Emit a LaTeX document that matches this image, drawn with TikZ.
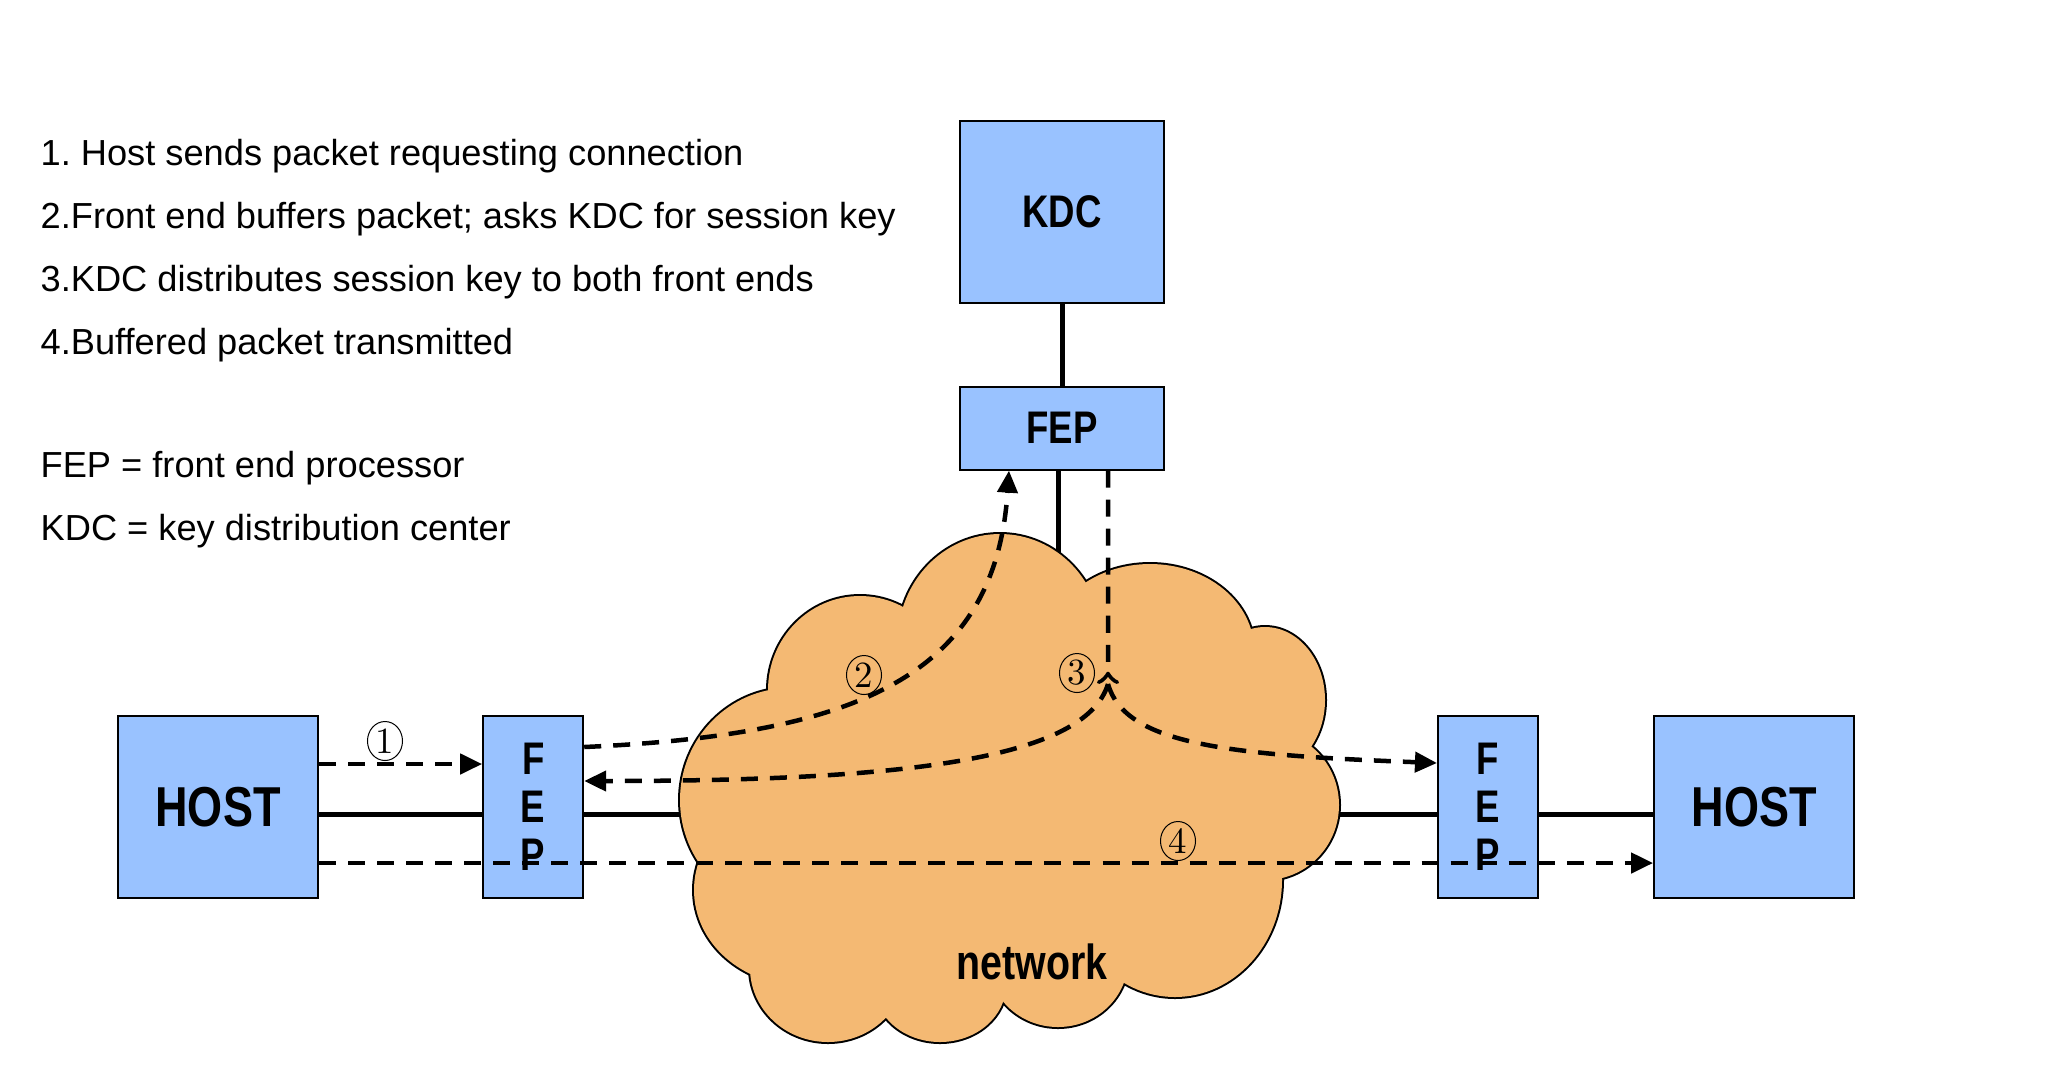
\documentclass[tikz,border=0pt]{standalone}
\usepackage{fontspec}
\setsansfont{Liberation Sans}
\newfontfamily\comicfont{Liberation Sans}[FakeStretch=0.8]
\usetikzlibrary{positioning, arrows, arrows.meta, shapes.geometric}

\definecolor{boxblue}{RGB}{153,194,255}
\definecolor{netorange}{RGB}{244,185,115}

\tikzset{
	box/.style={draw, line width=0.02cm, fill=boxblue, inner sep=0pt,
		font=\comicfont\bfseries\fontsize{13}{13.6}\selectfont},
	note/.style={anchor=base west, inner sep=0pt, font=\sffamily\fontsize{10.3}{12}\selectfont},
	link/.style={line width=0.05cm},
	msg/.style={->, line width=0.045cm, dash pattern=on 0.17cm off 0.12cm},
	num/.style={draw, ellipse, line width=0.01cm, inner sep=0pt,
		minimum width=0.35cm, minimum height=0.39cm, font=\rmfamily\fontsize{10.5}{10.5}\selectfont}
}

\begin{document}
\begin{tikzpicture}[x=0.01cm, y=-0.01cm, >={Triangle[length=0.22cm, width=0.2cm]}]

	\useasboundingbox (0,0) rectangle (2054,1090);

	% legend
	\node[note] (l1) at (40,165) {1.\ Host sends packet requesting connection};
	\node[note] (l2) at (40,228) {2.Front end buffers packet; asks KDC for session key};
	\node[note] (l3) at (40,291) {3.KDC distributes session key to both front ends};
	\node[note] (l4) at (40,354) {4.Buffered packet transmitted};
	\node[note] (dfep) at (40,477) {FEP = front end processor};
	\node[note] (dkdc) at (40,540) {KDC = key distribution center};

	% boxes
	\node[box, minimum width=2.04cm, minimum height=1.81cm] (kdc) at (1062,212) {KDC};
	\node[box, minimum width=2.04cm, minimum height=0.83cm, below=0.82cm of kdc] (fepk) {FEP};
	\node[box, minimum width=2cm, minimum height=1.82cm, font=\comicfont\bfseries\fontsize{16}{18}\selectfont] (hostl) at (218,807) {HOST};
	\node[box, minimum width=1cm, minimum height=1.82cm, align=center, right=1.63cm of hostl] (fepl) {F\\E\\P};
	\node[box, minimum width=1cm, minimum height=1.82cm, align=center] (fepr) at (1488,807) {F\\E\\P};
	\node[box, minimum width=2cm, minimum height=1.82cm, font=\comicfont\bfseries\fontsize{16}{18}\selectfont, right=1.14cm of fepr] (hostr) {HOST};

	\coordinate (netw) at (740,814);
	\coordinate (nete) at (1290,814);
	\coordinate (netn) at (1062,620);
	\coordinate (split) at (1108,684);

	% wires
	\draw[link] (kdc) -- (fepk);
	\draw[link] ([xshift=-0.04cm]fepk.south) -- ([xshift=-0.04cm]fepk.south |- netn);
	\draw[link] (hostl.east |- netw) -- (fepl.west |- netw);
	\draw[link] (fepl.east |- netw) -- (netw);
	\draw[link] (nete) -- (fepr.west |- nete);
	\draw[link] (fepr.east |- nete) -- (hostr.west |- nete);

	% network cloud
	\foreach \cx/\cy/\rx/\ry in {1000/640/102/106, 1150/650/104/86, 1265/700/60/73,
			1265/805/74/75, 1175/880/107/117, 1058/960/70/67, 940/985/66/57,
			828/968/78/74, 800/890/106/95, 790/800/110/112, 860/690/92/94}
		\draw[line width=0.04cm] (\cx,\cy) ellipse [x radius=\rx, y radius=\ry];
	\foreach \cx/\cy/\rx/\ry in {1000/640/102/106, 1150/650/104/86, 1265/700/60/73,
			1265/805/74/75, 1175/880/107/117, 1058/960/70/67, 940/985/66/57,
			828/968/78/74, 800/890/106/95, 790/800/110/112, 860/690/92/94, 1010/800/250/170}
		\fill[netorange] (\cx,\cy) ellipse [x radius=\rx, y radius=\ry];
	\node[font=\comicfont\bfseries\fontsize{14}{16}\selectfont] (netlabel) at (1032,962) {network};

	% messages
	\draw[msg] (hostl.east |- 0,764) -- (fepl.west |- 0,764);
	\draw[msg] (fepl.east |- 0,747) .. controls (850,735) and (995,680) .. ([xshift=-0.53cm]fepk.south);
	\draw[line width=0.045cm, dash pattern=on 0.17cm off 0.12cm, -to reversed] ([xshift=0.46cm]fepk.south) -- (split);
	\draw[msg] (split) .. controls (1085,760) and (900,781) .. (fepl.east |- 0,781);
	\draw[msg] (split) .. controls (1125,745) and (1230,755) .. (fepr.west |- 0,763);
	\draw[msg] (hostl.east |- 0,863) -- (hostr.west |- 0,863);

	\node[num] (n1) at (385,741) {1};
	\node[num] (n2) at (864,675) {2};
	\node[num] (n3) at (1077,673) {3};
	\node[num] (n4) at (1178,841) {4};

\end{tikzpicture}
\end{document}
